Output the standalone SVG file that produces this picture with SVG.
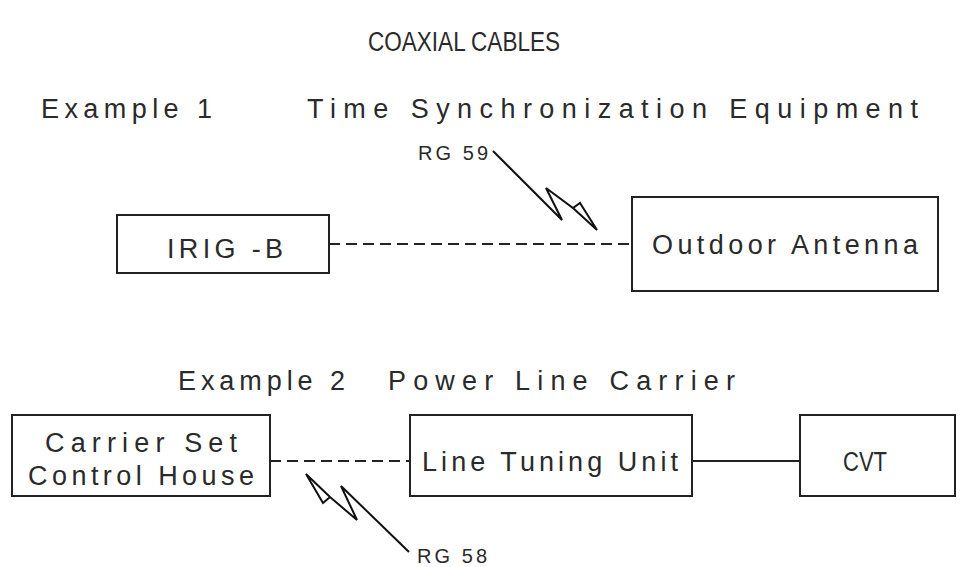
<svg xmlns="http://www.w3.org/2000/svg" width="964" height="567" viewBox="0 0 964 567">
<style>
text{font-family:"Liberation Sans",Arial,sans-serif;fill:#2a2a2a;font-size:27px}
.box{fill:#fff;stroke:#222;stroke-width:2}
.dash{stroke:#222;stroke-width:2;stroke-dasharray:11 6;fill:none}
.solid{stroke:#222;stroke-width:2;fill:none}
.bolt{stroke:#111;stroke-width:2;fill:none;stroke-linejoin:miter}
.sm{font-size:20px}
</style>
<rect width="964" height="567" fill="#fff"/>
<g id="labels">
<text x="368" y="51" font-size="30" textLength="192" lengthAdjust="spacingAndGlyphs">COAXIAL CABLES</text>
<text x="41" y="118" textLength="171" lengthAdjust="spacing">Example 1</text>
<text x="307" y="118" textLength="611" lengthAdjust="spacing">Time Synchronization Equipment</text>
<text x="178" y="390" textLength="167" lengthAdjust="spacing">Example 2</text>
<text x="388" y="390" textLength="347" lengthAdjust="spacing">Power Line Carrier</text>
<text class="sm" x="418" y="160" textLength="70" lengthAdjust="spacing">RG 59</text>
<text class="sm" x="417" y="563" textLength="70" lengthAdjust="spacing">RG 58</text>
</g>
<g id="connectors">
<line class="dash" x1="329" y1="244" x2="632" y2="244"/>
<line class="dash" x1="270" y1="461" x2="410" y2="461"/>
<line class="solid" x1="692" y1="461" x2="800" y2="461"/>
<polyline class="bolt" points="493,151 562,220 546,188 573,208 580,203 597,230 573,208"/>
<polyline class="bolt" points="409,552 341,486 357,520 330,497 323,503 306,474 330,497"/>
</g>
<g id="irig">
<rect class="box" x="117" y="215" width="212" height="58"/>
<text x="167" y="258" textLength="116" lengthAdjust="spacing">IRIG -B</text>
</g>
<g id="antenna">
<rect class="box" x="632" y="197" width="306" height="94"/>
<text x="652" y="254" textLength="266" lengthAdjust="spacing">Outdoor Antenna</text>
</g>
<g id="carrier">
<rect class="box" x="12" y="415" width="258" height="81"/>
<text x="45" y="452" textLength="192" lengthAdjust="spacing">Carrier Set</text>
<text x="28" y="485" textLength="226" lengthAdjust="spacing">Control House</text>
</g>
<g id="ltu">
<rect class="box" x="410" y="415" width="282" height="81"/>
<text x="422" y="471" textLength="256" lengthAdjust="spacing">Line Tuning Unit</text>
</g>
<g id="cvt">
<rect class="box" x="800" y="415" width="155" height="81"/>
<text x="843" y="471" textLength="44" lengthAdjust="spacingAndGlyphs">CVT</text>
</g>
</svg>
